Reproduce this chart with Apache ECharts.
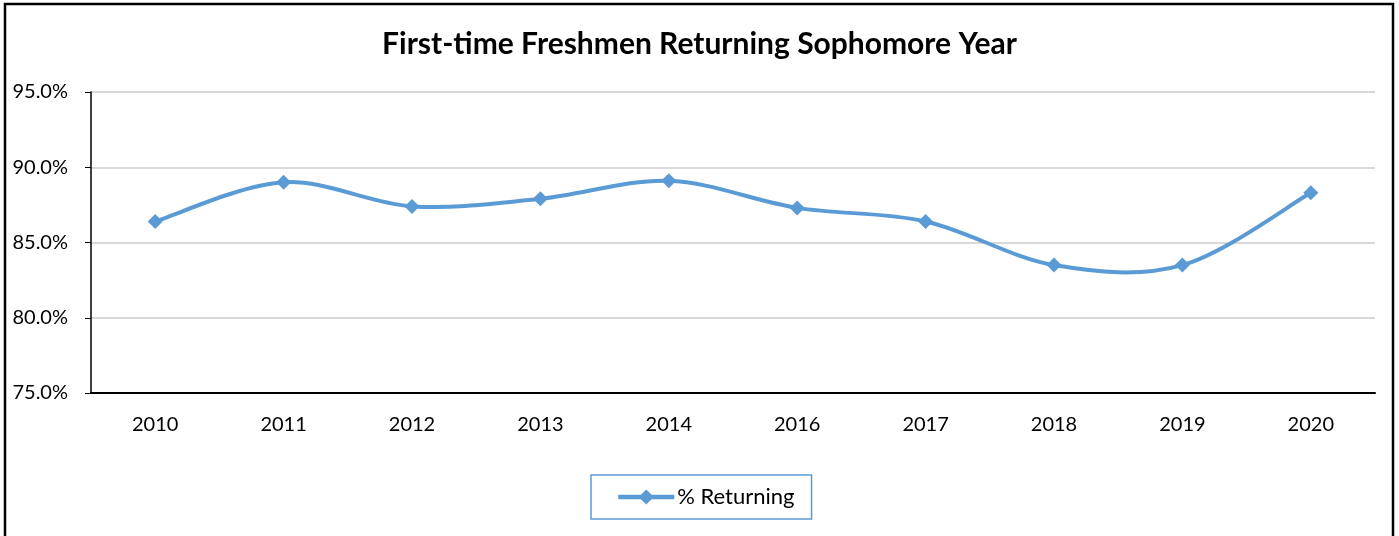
<!DOCTYPE html>
<html>
<head>
<meta charset="utf-8">
<script src="https://cdn.jsdelivr.net/npm/echarts@6/dist/echarts.min.js"></script>
<style>
  html, body { margin: 0; padding: 0; background: #fff; }
  #appBox { width: 1399px; height: 536px; }
</style>
</head>
<body>
<div id="appBox"></div>
<script>
// data
const years = ['2010', '2011', '2012', '2013', '2014', '2016', '2017', '2018', '2019', '2020']
const pctReturning = [86.4, 89.0, 87.4, 87.9, 89.1, 87.3, 86.4, 83.5, 83.5, 88.3]
const seriesName = '% Returning'
const chartTitle = 'First-time Freshmen Returning Sophomore Year'

const blue = '#5b9bd5'
const font = 'Lato, "Open Sans", sans-serif'

// excel-style smoothed line (catmull-rom -> bezier), points come from the axes via api.coord
function renderSmoothLine(params, api) {
  if (params.dataIndex !== 0) return null
  const pts = pctReturning.map((v, i) => api.coord([i, v]))
  const n = pts.length
  const children = []
  for (let i = 0; i < n - 1; i++) {
    const p0 = pts[Math.max(i - 1, 0)]
    const p1 = pts[i]
    const p2 = pts[i + 1]
    const p3 = pts[Math.min(i + 2, n - 1)]
    children.push({
      type: 'bezierCurve',
      shape: {
        x1: p1[0], y1: p1[1],
        x2: p2[0], y2: p2[1],
        cpx1: p1[0] + (p2[0] - p0[0]) / 6,
        cpy1: p1[1] + (p2[1] - p0[1]) / 6,
        cpx2: p2[0] - (p3[0] - p1[0]) / 6,
        cpy2: p2[1] - (p3[1] - p1[1]) / 6,
      },
      style: { fill: 'none', stroke: blue, lineWidth: 4, lineCap: 'round' },
    })
  }
  return { type: 'group', children }
}

const option = {
  animation: false,
  title: {
    text: chartTitle,
    left: 'center',
    top: 29,
    padding: 0,
    textStyle: { fontFamily: font, fontSize: 30, fontWeight: 'bold', color: '#000' },
  },
  legend: {
    data: [seriesName],
    left: 591,
    top: 475,
    padding: [11, 17, 11, 25],
    borderColor: blue,
    borderWidth: 1.5,
    borderRadius: 0,
    itemWidth: 56,
    itemHeight: 19,
    itemGap: 0,
    lineStyle: { color: blue, width: 4.5, opacity: 1 },
    itemStyle: { color: blue },
    textStyle: { fontFamily: font, fontSize: 22, color: '#000', padding: [0, 0, 0, -2] },
  },
  grid: { left: 91, right: 24, top: 92, bottom: 143, containLabel: false },
  xAxis: [
    {
      type: 'category',
      data: years,
      boundaryGap: true,
      axisLine: { lineStyle: { color: '#000', width: 2 } },
      axisTick: { alignWithLabel: true, length: 6, lineStyle: { color: '#000', width: 1 } },
      axisLabel: { margin: 22, fontFamily: font, fontSize: 20, color: '#000' },
    },
    {
      type: 'category',
      data: years,
      position: 'bottom',
      boundaryGap: true,
      axisLine: { show: false },
      axisTick: { inside: true, alignWithLabel: true, length: 5, lineStyle: { color: '#000', width: 1 } },
      axisLabel: { show: false },
    },
  ],
  yAxis: [
    {
      type: 'value',
      min: 75,
      max: 95,
      interval: 5,
      axisLine: { show: true, lineStyle: { color: '#000', width: 1.5 } },
      axisTick: { show: true, length: 6, lineStyle: { color: '#000', width: 1 } },
      axisLabel: {
        margin: 23,
        fontFamily: font,
        fontSize: 20,
        color: '#000',
        formatter: (v) => v.toFixed(1) + '%',
      },
      splitLine: { lineStyle: { color: '#d9d9d9', width: 2 } },
    },
  ],
  series: [
    {
      name: 'smooth',
      type: 'custom',
      renderItem: renderSmoothLine,
      data: pctReturning.map((v, i) => [i, v]),
      encode: { x: 0, y: 1 },
      z: 2,
      silent: true,
    },
    {
      name: seriesName,
      type: 'line',
      data: pctReturning,
      symbol: 'diamond',
      symbolSize: 15,
      showAllSymbol: true,
      lineStyle: { color: blue, width: 0, opacity: 0 },
      itemStyle: { color: blue },
      z: 3,
    },
  ],
  graphic: [
    {
      type: 'rect',
      shape: { x: 5, y: 4, width: 1388, height: 545 },
      style: { fill: 'none', stroke: '#000', lineWidth: 2.5 },
      silent: true,
    },
  ],
}

const chartObj = echarts.init(document.getElementById('appBox'))
chartObj.setOption(option)
</script>
</body>
</html>
